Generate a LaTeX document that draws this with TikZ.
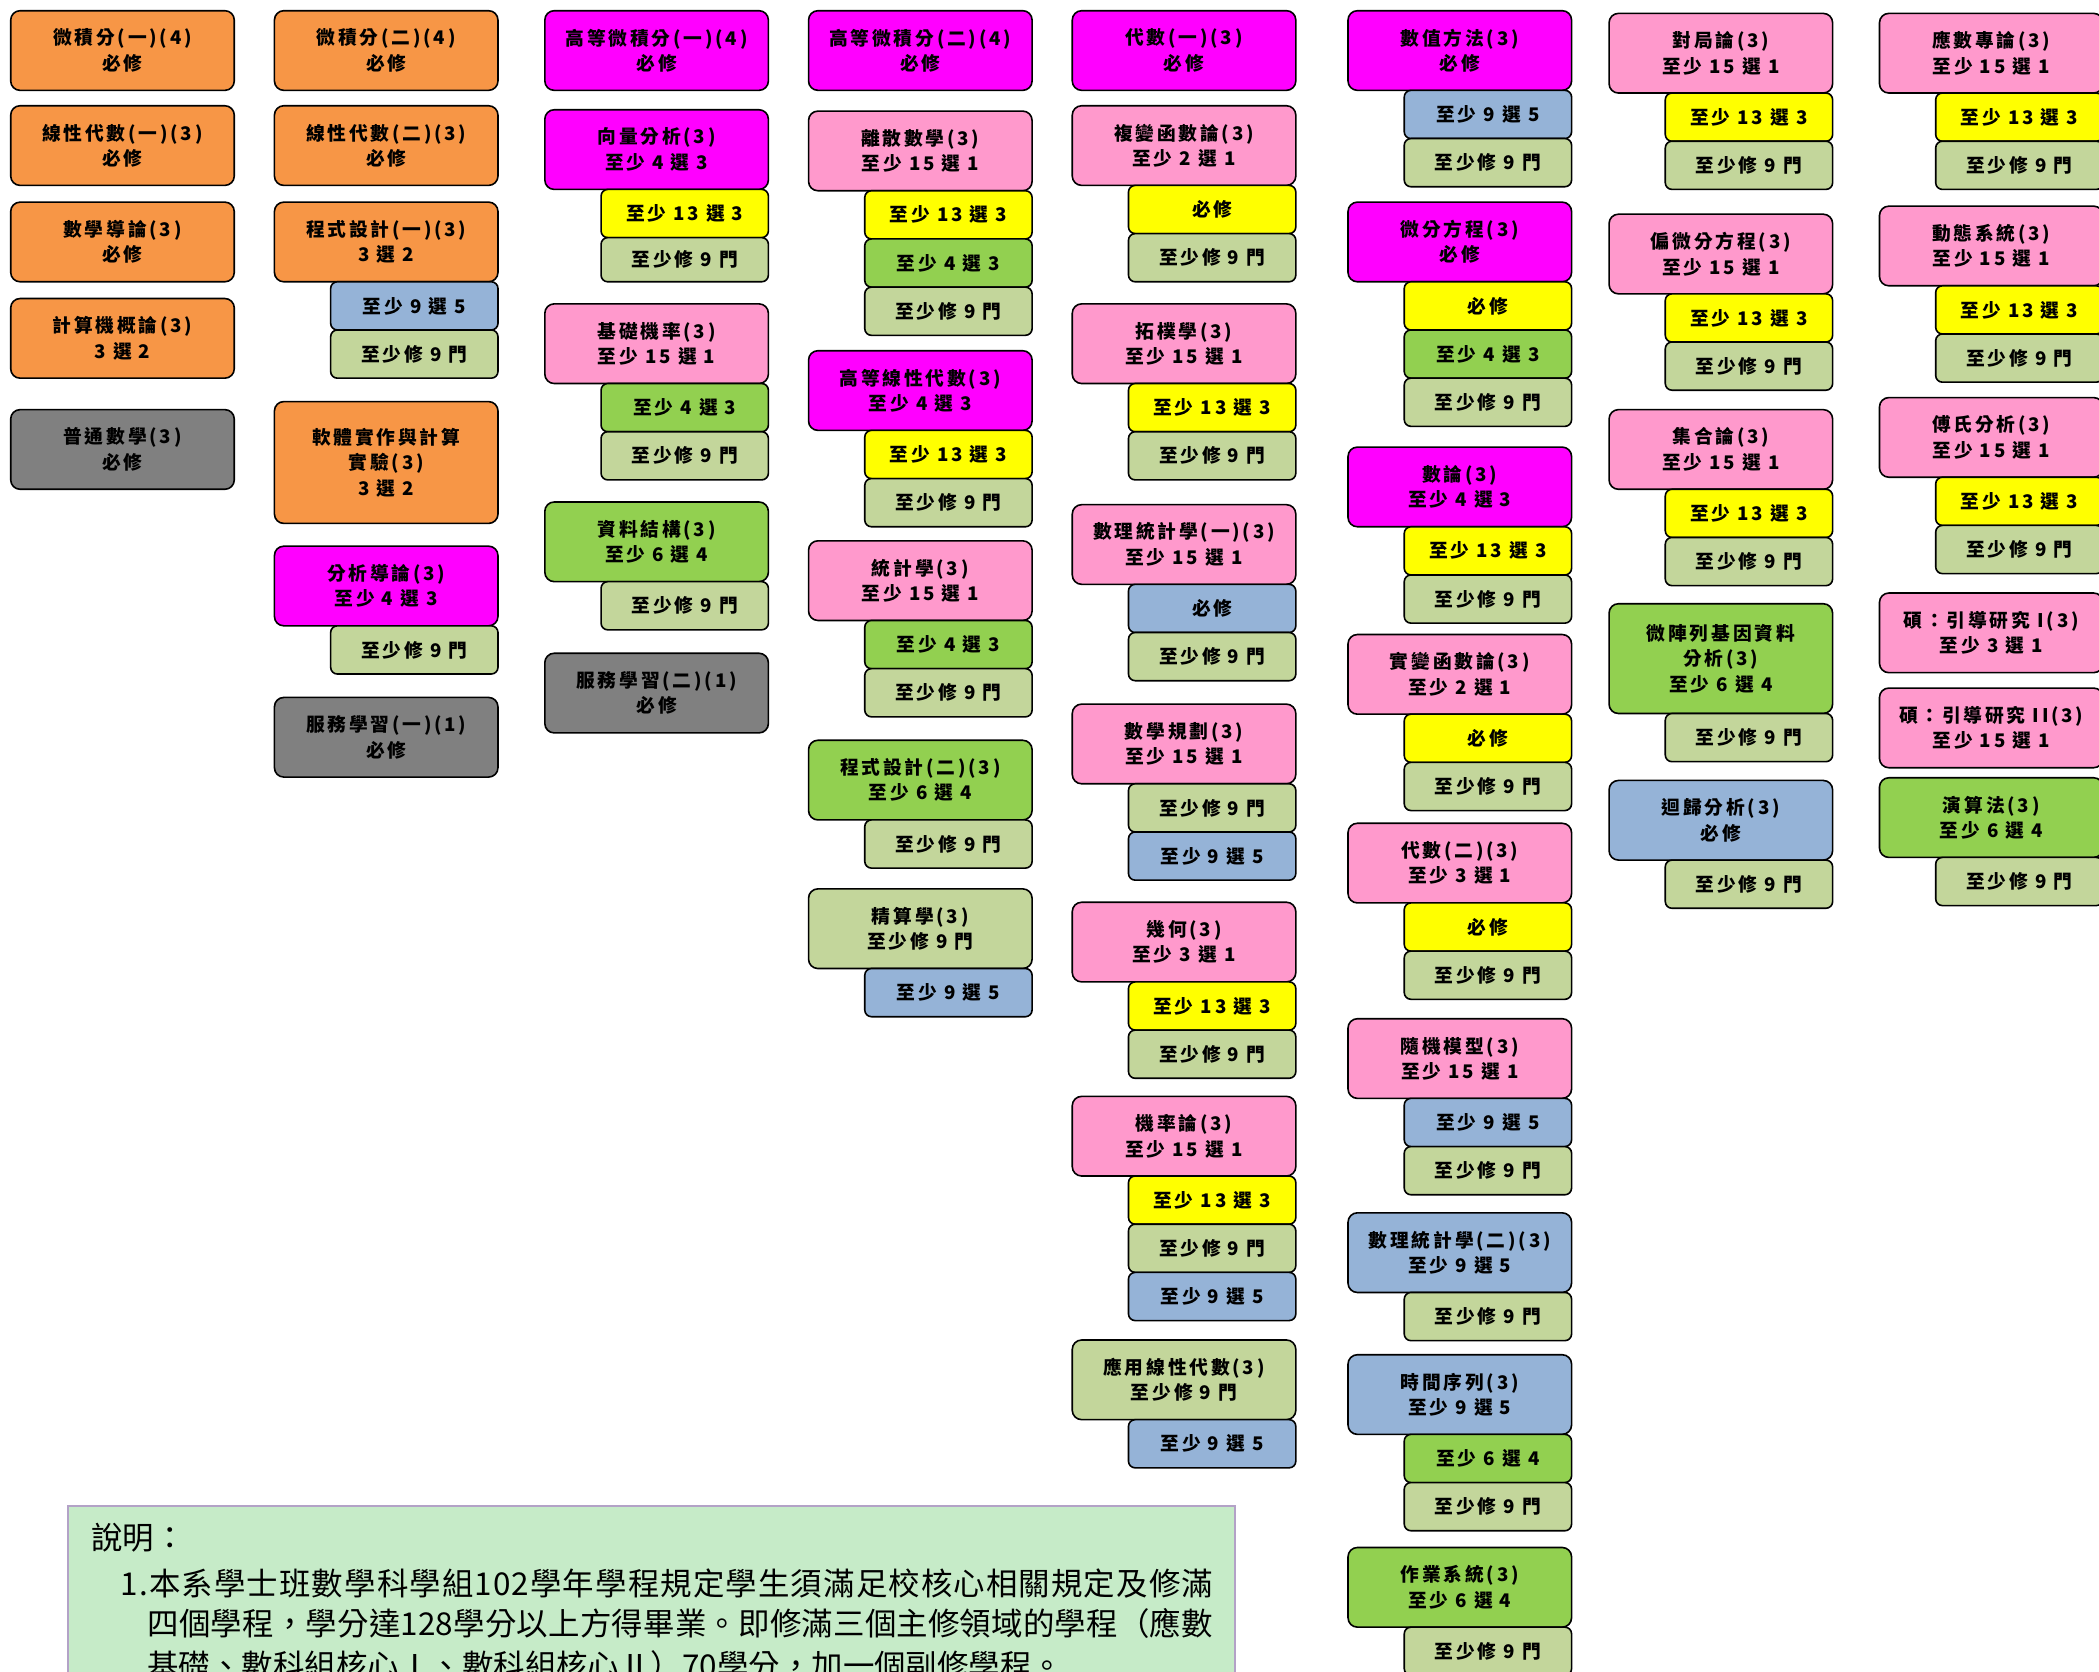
\documentclass[tikz,border=0pt]{standalone}
\usepackage{fontspec}
\newfontfamily\cjk[LetterSpace=15]{Noto Sans CJK TC}
\newfontfamily\cjknote{Noto Sans CJK TC}
\definecolor{cOrange}{HTML}{F79646}
\definecolor{cMagenta}{HTML}{FF00FF}
\definecolor{cPink}{HTML}{FF99CC}
\definecolor{cYellow}{HTML}{FFFF00}
\definecolor{cGreen}{HTML}{92D050}
\definecolor{cOlive}{HTML}{C3D69B}
\definecolor{cBlue}{HTML}{95B3D7}
\definecolor{cGray}{HTML}{808080}
\definecolor{cNote}{HTML}{C6EBC8}
\definecolor{cNoteLine}{HTML}{B3A2C7}
\tikzset{course/.style={draw,line width=1.2pt,outer sep=0pt,rounded corners=7pt,anchor=north west,minimum width=167pt,minimum height=59.5pt,inner sep=1pt,align=center,font=\cjk\bfseries\fontsize{14}{19}\selectfont},
  rule/.style={draw,line width=1.2pt,outer sep=0pt,rounded corners=5pt,anchor=north east,minimum width=125pt,minimum height=36pt,inner sep=1pt,font=\cjk\bfseries\fontsize{14}{19}\selectfont}}
\tikzset{orangebox/.style={course,fill=cOrange},magbox/.style={course,fill=cMagenta},pinkbox/.style={course,fill=cPink},
  greenbox/.style={course,fill=cGreen},olivebox/.style={course,fill=cOlive},bluebox/.style={course,fill=cBlue},graybox/.style={course,fill=cGray},
  yelrule/.style={rule,fill=cYellow},greenrule/.style={rule,fill=cGreen},oliverule/.style={rule,fill=cOlive},bluerule/.style={rule,fill=cBlue}}
\tikzset{notebox/.style={draw=cNoteLine,fill=cNote,line width=1.5pt,anchor=north west,minimum width=872pt,minimum height=150pt},
  noteline/.style={anchor=west,inner sep=0pt,font=\cjknote\fontsize{23.5}{30}\selectfont}}

\begin{document}
\begin{tikzpicture}[x=1pt,y=-1pt]
  \useasboundingbox (0,0) rectangle (1568,1249);
  \clip (0,0) rectangle (1568,1249);
  % column 1
  \node[orangebox] (calA) at (8,8) {微積分(一)(4)\\必修};
  \node[orangebox] (linA) at (8,79) {線性代數(一)(3)\\必修};
  \node[orangebox] (intro) at (8,151) {數學導論(3)\\必修};
  \node[orangebox] (comp) at (8,223) {計算機概論(3)\\3 選 2};
  \node[graybox] (genmath) at (8,306) {普通數學(3)\\必修};
  % column 2
  \node[orangebox] (calB) at (205,8) {微積分(二)(4)\\必修};
  \node[orangebox] (linB) at (205,79) {線性代數(二)(3)\\必修};
  \node[orangebox] (progA) at (205,151) {程式設計(一)(3)\\3 選 2};
  \node[bluerule] (progA1) at (progA.south east) {至少 9 選 5};
  \node[oliverule] (progA2) at (progA1.south east) {至少修 9 門};
  \node[orangebox,minimum height=91pt] (soft) at (205,300) {軟體實作與計算\\實驗(3)\\3 選 2};
  \node[magbox] (anaIntro) at (205,408) {分析導論(3)\\至少 4 選 3};
  \node[oliverule] (anaIntro1) at (anaIntro.south east) {至少修 9 門};
  \node[graybox] (servA) at (205,521) {服務學習(一)(1)\\必修};
  % column 3
  \node[magbox] (advCalA) at (407,8) {高等微積分(一)(4)\\必修};
  \node[magbox] (vecAna) at (407,82) {向量分析(3)\\至少 4 選 3};
  \node[yelrule] (vecAna1) at (vecAna.south east) {至少 13 選 3};
  \node[oliverule,minimum height=33pt] (vecAna2) at (vecAna1.south east) {至少修 9 門};
  \node[pinkbox] (baseProb) at (407,227) {基礎機率(3)\\至少 15 選 1};
  \node[greenrule] (baseProb1) at (baseProb.south east) {至少 4 選 3};
  \node[oliverule] (baseProb2) at (baseProb1.south east) {至少修 9 門};
  \node[greenbox] (dataStr) at (407,375) {資料結構(3)\\至少 6 選 4};
  \node[oliverule] (dataStr1) at (dataStr.south east) {至少修 9 門};
  \node[graybox] (servB) at (407,488) {服務學習(二)(1)\\必修};
  % column 4
  \node[magbox] (advCalB) at (604,8) {高等微積分(二)(4)\\必修};
  \node[pinkbox] (disc) at (604,83) {離散數學(3)\\至少 15 選 1};
  \node[yelrule] (disc1) at (disc.south east) {至少 13 選 3};
  \node[greenrule] (disc2) at (disc1.south east) {至少 4 選 3};
  \node[oliverule] (disc3) at (disc2.south east) {至少修 9 門};
  \node[magbox] (advLin) at (604,262) {高等線性代數(3)\\至少 4 選 3};
  \node[yelrule] (advLin1) at (advLin.south east) {至少 13 選 3};
  \node[oliverule] (advLin2) at (advLin1.south east) {至少修 9 門};
  \node[pinkbox] (stat) at (604,404) {統計學(3)\\至少 15 選 1};
  \node[greenrule] (stat1) at (stat.south east) {至少 4 選 3};
  \node[oliverule] (stat2) at (stat1.south east) {至少修 9 門};
  \node[greenbox] (progB) at (604,553) {程式設計(二)(3)\\至少 6 選 4};
  \node[oliverule] (progB1) at (progB.south east) {至少修 9 門};
  \node[olivebox] (actu) at (604,664) {精算學(3)\\至少修 9 門};
  \node[bluerule] (actu1) at (actu.south east) {至少 9 選 5};
  % column 5
  \node[magbox] (algA) at (801,8) {代數(一)(3)\\必修};
  \node[pinkbox] (cplx) at (801,79) {複變函數論(3)\\至少 2 選 1};
  \node[yelrule] (cplx1) at (cplx.south east) {必修};
  \node[oliverule] (cplx2) at (cplx1.south east) {至少修 9 門};
  \node[pinkbox] (topo) at (801,227) {拓樸學(3)\\至少 15 選 1};
  \node[yelrule] (topo1) at (topo.south east) {至少 13 選 3};
  \node[oliverule] (topo2) at (topo1.south east) {至少修 9 門};
  \node[pinkbox] (mstatA) at (801,377) {數理統計學(一)(3)\\至少 15 選 1};
  \node[bluerule] (mstatA1) at (mstatA.south east) {必修};
  \node[oliverule] (mstatA2) at (mstatA1.south east) {至少修 9 門};
  \node[pinkbox] (mprog) at (801,526) {數學規劃(3)\\至少 15 選 1};
  \node[oliverule] (mprog1) at (mprog.south east) {至少修 9 門};
  \node[bluerule] (mprog2) at (mprog1.south east) {至少 9 選 5};
  \node[pinkbox] (geom) at (801,674) {幾何(3)\\至少 3 選 1};
  \node[yelrule] (geom1) at (geom.south east) {至少 13 選 3};
  \node[oliverule] (geom2) at (geom1.south east) {至少修 9 門};
  \node[pinkbox] (probT) at (801,819) {機率論(3)\\至少 15 選 1};
  \node[yelrule] (probT1) at (probT.south east) {至少 13 選 3};
  \node[oliverule] (probT2) at (probT1.south east) {至少修 9 門};
  \node[bluerule] (probT3) at (probT2.south east) {至少 9 選 5};
  \node[olivebox] (appLin) at (801,1001) {應用線性代數(3)\\至少修 9 門};
  \node[bluerule] (appLin1) at (appLin.south east) {至少 9 選 5};
  % column 6
  \node[magbox] (numM) at (1007,8) {數值方法(3)\\必修};
  \node[bluerule] (numM1) at (numM.south east) {至少 9 選 5};
  \node[oliverule] (numM2) at (numM1.south east) {至少修 9 門};
  \node[magbox] (ode) at (1007,151) {微分方程(3)\\必修};
  \node[yelrule] (ode1) at (ode.south east) {必修};
  \node[greenrule] (ode2) at (ode1.south east) {至少 4 選 3};
  \node[oliverule] (ode3) at (ode2.south east) {至少修 9 門};
  \node[magbox] (numT) at (1007,334) {數論(3)\\至少 4 選 3};
  \node[yelrule] (numT1) at (numT.south east) {至少 13 選 3};
  \node[oliverule] (numT2) at (numT1.south east) {至少修 9 門};
  \node[pinkbox] (real) at (1007,474) {實變函數論(3)\\至少 2 選 1};
  \node[yelrule] (real1) at (real.south east) {必修};
  \node[oliverule] (real2) at (real1.south east) {至少修 9 門};
  \node[pinkbox] (algB) at (1007,615) {代數(二)(3)\\至少 3 選 1};
  \node[yelrule] (algB1) at (algB.south east) {必修};
  \node[oliverule] (algB2) at (algB1.south east) {至少修 9 門};
  \node[pinkbox] (stoch) at (1007,761) {隨機模型(3)\\至少 15 選 1};
  \node[bluerule] (stoch1) at (stoch.south east) {至少 9 選 5};
  \node[oliverule] (stoch2) at (stoch1.south east) {至少修 9 門};
  \node[bluebox] (mstatB) at (1007,906) {數理統計學(二)(3)\\至少 9 選 5};
  \node[oliverule] (mstatB1) at (mstatB.south east) {至少修 9 門};
  \node[bluebox] (tser) at (1007,1012) {時間序列(3)\\至少 9 選 5};
  \node[greenrule] (tser1) at (tser.south east) {至少 6 選 4};
  \node[oliverule] (tser2) at (tser1.south east) {至少修 9 門};
  \node[greenbox] (opsys) at (1007,1156) {作業系統(3)\\至少 6 選 4};
  \node[oliverule] (opsys1) at (opsys.south east) {至少修 9 門};
  % column 7
  \node[pinkbox] (game) at (1202,10) {對局論(3)\\至少 15 選 1};
  \node[yelrule] (game1) at (game.south east) {至少 13 選 3};
  \node[oliverule] (game2) at (game1.south east) {至少修 9 門};
  \node[pinkbox] (pde) at (1202,160) {偏微分方程(3)\\至少 15 選 1};
  \node[yelrule] (pde1) at (pde.south east) {至少 13 選 3};
  \node[oliverule] (pde2) at (pde1.south east) {至少修 9 門};
  \node[pinkbox] (sets) at (1202,306) {集合論(3)\\至少 15 選 1};
  \node[yelrule] (sets1) at (sets.south east) {至少 13 選 3};
  \node[oliverule] (sets2) at (sets1.south east) {至少修 9 門};
  \node[greenbox,minimum height=82pt] (micro) at (1202,451) {微陣列基因資料\\分析(3)\\至少 6 選 4};
  \node[oliverule] (micro1) at (micro.south east) {至少修 9 門};
  \node[bluebox] (regr) at (1202,583) {迴歸分析(3)\\必修};
  \node[oliverule] (regr1) at (regr.south east) {至少修 9 門};
  % column 8
  \node[pinkbox] (topic) at (1404,10) {應數專論(3)\\至少 15 選 1};
  \node[yelrule] (topic1) at (topic.south east) {至少 13 選 3};
  \node[oliverule] (topic2) at (topic1.south east) {至少修 9 門};
  \node[pinkbox] (dyn) at (1404,154) {動態系統(3)\\至少 15 選 1};
  \node[yelrule] (dyn1) at (dyn.south east) {至少 13 選 3};
  \node[oliverule] (dyn2) at (dyn1.south east) {至少修 9 門};
  \node[pinkbox] (fourier) at (1404,297) {傅氏分析(3)\\至少 15 選 1};
  \node[yelrule] (fourier1) at (fourier.south east) {至少 13 選 3};
  \node[oliverule] (fourier2) at (fourier1.south east) {至少修 9 門};
  \node[pinkbox] (guideA) at (1404,443) {碩：引導研究 I(3)\\至少 3 選 1};
  \node[pinkbox] (guideB) at (1404,514) {碩：引導研究 II(3)\\至少 15 選 1};
  \node[greenbox] (algo) at (1404,581) {演算法(3)\\至少 6 選 4};
  \node[oliverule] (algo1) at (algo.south east) {至少修 9 門};
  % note
  \node[notebox] (note) at (50,1124) {};
  \node[noteline] (noteT) at (68,1149) {說明：};
  \node[noteline] (noteA) at (90,1183) {\addfontfeature{LetterSpace=3.5}1.本系學士班數學科學組102學年學程規定學生須滿足校核心相關規定及修滿};
  \node[noteline] (noteB) at (110,1213) {\addfontfeature{LetterSpace=0.6}四個學程，學分達128學分以上方得畢業。即修滿三個主修領域的學程（應數};
  \node[noteline] (noteC) at (110,1244) {基礎、數科組核心Ⅰ、數科組核心Ⅱ）70學分，加一個副修學程。};
\end{tikzpicture}
\end{document}
